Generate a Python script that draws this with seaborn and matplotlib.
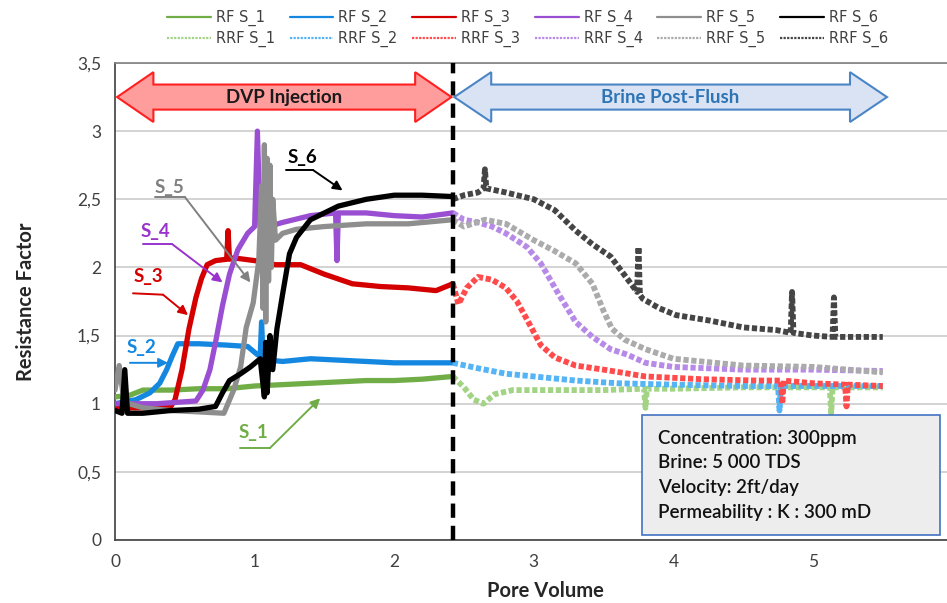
import numpy as np
import pandas as pd
import matplotlib
matplotlib.use("Agg")
import matplotlib.pyplot as plt
from matplotlib.patches import Polygon, Rectangle
from matplotlib.lines import Line2D
from matplotlib.ticker import MultipleLocator, FuncFormatter
import seaborn as sns

# ---------------- data ----------------
series_names = ["S_1", "S_2", "S_3", "S_4", "S_5", "S_6"]

RF_S1_x = [0.0, 0.1, 0.2, 0.4, 0.6, 0.8, 1.0, 1.2, 1.4, 1.6, 1.8, 2.0, 2.2, 2.42]
RF_S1_y = [1.05, 1.06, 1.10, 1.10, 1.11, 1.11, 1.13, 1.14, 1.15, 1.16, 1.17, 1.17, 1.18, 1.20]
RRF_S1_x = [2.42, 2.5, 2.57, 2.64, 2.72, 2.85, 3.0, 3.5, 3.79, 3.80, 3.81, 4.0, 4.5, 5.0, 5.12, 5.13, 5.14, 5.5]
RRF_S1_y = [1.20, 1.12, 1.03, 1.00, 1.07, 1.10, 1.10, 1.10, 1.11, 0.97, 1.11, 1.11, 1.12, 1.12, 1.12, 0.93, 1.12, 1.12]

RF_S2_x = [0.0, 0.15, 0.25, 0.32, 0.37, 0.41, 0.45, 0.6, 0.8, 0.95, 1.02, 1.04, 1.05, 1.06, 1.1, 1.2, 1.4, 1.6, 1.8, 2.0, 2.2, 2.42]
RF_S2_y = [1.00, 1.03, 1.08, 1.15, 1.25, 1.35, 1.44, 1.44, 1.43, 1.42, 1.36, 1.35, 1.60, 1.35, 1.32, 1.31, 1.33, 1.32, 1.31, 1.30, 1.30, 1.30]
RRF_S2_x = [2.42, 2.6, 2.8, 3.0, 3.3, 3.6, 4.0, 4.5, 4.75, 4.76, 4.77, 5.0, 5.5]
RRF_S2_y = [1.30, 1.26, 1.22, 1.20, 1.17, 1.15, 1.14, 1.13, 1.13, 0.95, 1.13, 1.13, 1.13]

RF_S3_x = [0.0, 0.2, 0.4, 0.43, 0.48, 0.53, 0.58, 0.62, 0.66, 0.72, 0.80, 0.81, 0.82, 0.85, 1.0, 1.15, 1.33, 1.5, 1.7, 1.9, 2.1, 2.3, 2.42]
RF_S3_y = [0.97, 0.97, 0.98, 1.03, 1.25, 1.55, 1.78, 1.92, 2.02, 2.05, 2.06, 2.27, 2.06, 2.07, 2.05, 2.02, 2.02, 1.95, 1.88, 1.86, 1.85, 1.83, 1.88]
RRF_S3_x = [2.42, 2.46, 2.52, 2.6, 2.7, 2.8, 2.88, 2.95, 3.05, 3.15, 3.3, 3.5, 3.8, 4.2, 4.6, 4.77, 4.78, 4.79, 5.0, 5.23, 5.24, 5.25, 5.5]
RRF_S3_y = [1.88, 1.73, 1.85, 1.93, 1.91, 1.85, 1.75, 1.62, 1.43, 1.34, 1.28, 1.25, 1.20, 1.18, 1.17, 1.17, 1.00, 1.17, 1.15, 1.14, 0.98, 1.14, 1.13]

RF_S4_x = [0.0, 0.3, 0.58, 0.63, 0.68, 0.72, 0.77, 0.82, 0.88, 0.95, 1.0, 1.02, 1.04, 1.1, 1.2, 1.4, 1.58, 1.59, 1.60, 1.8, 2.0, 2.2, 2.42]
RF_S4_y = [1.00, 1.00, 1.02, 1.10, 1.25, 1.45, 1.72, 1.95, 2.13, 2.25, 2.30, 3.00, 2.30, 2.30, 2.33, 2.38, 2.40, 2.05, 2.40, 2.40, 2.38, 2.37, 2.40]
RRF_S4_x = [2.42, 2.5, 2.6, 2.7, 2.8, 2.95, 3.05, 3.18, 3.3, 3.42, 3.55, 3.67, 3.8, 4.0, 4.5, 5.0, 5.5]
RRF_S4_y = [2.40, 2.35, 2.33, 2.30, 2.25, 2.15, 2.03, 1.80, 1.60, 1.49, 1.40, 1.36, 1.30, 1.27, 1.25, 1.25, 1.24]

RF_S5_x = [0.0, 0.03, 0.06, 0.1, 0.2, 0.4, 0.6, 0.78, 0.85, 0.9, 0.94, 0.99, 1.03, 1.05, 1.06, 1.07, 1.08, 1.09, 1.10, 1.11, 1.12, 1.13, 1.15, 1.2, 1.3, 1.5, 1.8, 2.1, 2.42]
RF_S5_y = [1.10, 1.28, 1.05, 1.00, 0.97, 0.95, 0.94, 0.93, 1.10, 1.27, 1.56, 1.74, 2.05, 2.60, 1.70, 2.90, 1.60, 2.80, 1.90, 2.75, 2.00, 2.50, 2.20, 2.25, 2.28, 2.30, 2.32, 2.32, 2.35]
RRF_S5_x = [2.42, 2.5, 2.65, 2.8, 3.0, 3.15, 3.3, 3.42, 3.5, 3.56, 3.65, 3.8, 4.0, 4.5, 5.0, 5.5]
RRF_S5_y = [2.35, 2.30, 2.35, 2.32, 2.20, 2.12, 2.03, 1.88, 1.68, 1.55, 1.47, 1.40, 1.33, 1.28, 1.27, 1.23]

RF_S6_x = [0.0, 0.05, 0.07, 0.09, 0.2, 0.4, 0.6, 0.72, 0.77, 0.82, 0.9, 0.97, 1.04, 1.07, 1.08, 1.09, 1.11, 1.13, 1.16, 1.2, 1.25, 1.3, 1.4, 1.6, 1.8, 2.0, 2.2, 2.42]
RF_S6_y = [0.95, 0.93, 1.25, 0.93, 0.93, 0.95, 0.96, 0.98, 1.08, 1.17, 1.22, 1.27, 1.33, 1.05, 1.45, 1.08, 1.50, 1.25, 1.55, 1.80, 2.10, 2.22, 2.35, 2.45, 2.50, 2.53, 2.53, 2.52]
RRF_S6_x = [2.42, 2.5, 2.6, 2.64, 2.65, 2.66, 2.8, 3.0, 3.15, 3.3, 3.42, 3.55, 3.66, 3.74, 3.75, 3.76, 3.78, 3.9, 4.02, 4.26, 4.5, 4.74, 4.84, 4.85, 4.86, 5.0, 5.14, 5.15, 5.16, 5.3, 5.5]
RRF_S6_y = [2.50, 2.53, 2.55, 2.58, 2.72, 2.58, 2.55, 2.50, 2.42, 2.27, 2.17, 2.08, 1.93, 1.82, 2.15, 1.80, 1.77, 1.70, 1.65, 1.61, 1.56, 1.54, 1.52, 1.82, 1.52, 1.50, 1.49, 1.78, 1.49, 1.49, 1.49]

switch_pv = 2.42
x_ticks = [0, 1, 2, 3, 4, 5]
y_ticks = [0, 0.5, 1, 1.5, 2, 2.5, 3, 3.5]

RF_colors = ["#70AD47", "#1487E0", "#D40000", "#9A4FD2", "#8E8E8E", "#000000"]
RRF_colors = ["#A3D486", "#55B4F5", "#FF4B4B", "#B88AE8", "#ABABAB", "#454545"]

RF_data = [(RF_S1_x, RF_S1_y), (RF_S2_x, RF_S2_y), (RF_S3_x, RF_S3_y),
           (RF_S4_x, RF_S4_y), (RF_S5_x, RF_S5_y), (RF_S6_x, RF_S6_y)]
RRF_data = [(RRF_S1_x, RRF_S1_y), (RRF_S2_x, RRF_S2_y), (RRF_S3_x, RRF_S3_y),
            (RRF_S4_x, RRF_S4_y), (RRF_S5_x, RRF_S5_y), (RRF_S6_x, RRF_S6_y)]

# ---------------- figure ----------------
sns.set_theme(style="white")
plt.rcParams["font.family"] = ["Lato", "DejaVu Sans"]

fig = plt.figure(figsize=(9.47, 6.03), dpi=100)
ax = fig.add_axes([115 / 947, 63 / 603, 837.6 / 947, 477 / 603])

for i, name in enumerate(series_names):
    x, y = RF_data[i]
    df = pd.DataFrame({"PV": x, "RF": y})
    sns.lineplot(data=df, x="PV", y="RF", ax=ax, color=RF_colors[i], lw=3.8,
                 sort=False, estimator=None, zorder=3 + i)
for i, name in enumerate(series_names):
    x, y = RRF_data[i]
    df = pd.DataFrame({"PV": x, "RF": y})
    sns.lineplot(data=df, x="PV", y="RF", ax=ax, color=RRF_colors[i], lw=4.2,
                 linestyle=(0, (0.9, 0.45)), sort=False, estimator=None, zorder=10 + i)

ax.set_xlim(0, 6)
ax.set_ylim(0, 3.5)
ax.set_xticks(x_ticks)
ax.set_yticks(y_ticks)
ax.xaxis.set_minor_locator(MultipleLocator(0.2))
ax.yaxis.set_minor_locator(MultipleLocator(0.1))
fmt = FuncFormatter(lambda v, p: ("%g" % v).replace(".", ","))
ax.yaxis.set_major_formatter(fmt)
ax.xaxis.set_major_formatter(fmt)
ax.tick_params(axis="both", which="both", direction="in", length=4, width=1,
               color="#595959", labelsize=12.5, labelcolor="#404040")
ax.tick_params(axis="x", which="major", pad=10)
ax.tick_params(axis="y", which="major", pad=10)
ax.grid(axis="y", which="major", color="#D0D0D0", lw=1.3, zorder=0)
ax.set_axisbelow(True)
for side in ["left", "bottom"]:
    ax.spines[side].set_color("#404040")
    ax.spines[side].set_linewidth(1.2)
ax.spines["top"].set_color("#7F7F7F")
ax.spines["top"].set_linewidth(1.2)
ax.spines["right"].set_visible(False)

ax.set_xlabel("Pore Volume", fontsize=14.5, fontweight="bold", color="#262626")
ax.set_ylabel("Resistance Factor", fontsize=14.5, fontweight="bold", color="#262626")
ax.xaxis.set_label_coords((545 - 115) / 837.6, -0.087)
ax.yaxis.set_label_coords(-(115 - 36) / 837.6, 0.5)

# switch line
ax.axvline(switch_pv, color="black", lw=3.2, linestyle=(0, (3.2, 1.8)), zorder=20)

# double-headed arrows
def double_arrow(x0, x1, yc, body, head, hl, fc, ec):
    pts = [(x0, yc), (x0 + hl, yc + head), (x0 + hl, yc + body), (x1 - hl, yc + body),
           (x1 - hl, yc + head), (x1, yc), (x1 - hl, yc - head), (x1 - hl, yc - body),
           (x0 + hl, yc - body), (x0 + hl, yc - head)]
    ax.add_patch(Polygon(pts, closed=True, facecolor=fc, edgecolor=ec, lw=1.5, zorder=15))

double_arrow(0.015, 2.41, 3.25, 0.092, 0.183, 0.26, "#FF9C9C", "#FF2020")
double_arrow(2.43, 5.53, 3.25, 0.092, 0.183, 0.265, "#DAE3F3", "#4A86C5")
ax.text(1.21, 3.25, "DVP Injection", ha="center", va="center", fontsize=13.5,
        fontweight="bold", color="#1A1A1A", zorder=16)
ax.text(3.98, 3.25, "Brine Post-Flush", ha="center", va="center", fontsize=13.5,
        fontweight="bold", color="#2E75B6", zorder=16)

# series labels with leader lines
labels = [
    ("S_6", "#000000", (1.34, 2.81), [(1.225, 2.715), (1.418, 2.715)], (1.63, 2.565)),
    ("S_5", "#808080", (0.39, 2.59), [(0.287, 2.516), (0.501, 2.516)], (0.97, 1.89)),
    ("S_4", "#9933CC", (0.29, 2.26), [(0.20, 2.172), (0.408, 2.172)], (0.77, 1.89)),
    ("S_3", "#D40000", (0.24, 1.93), [(0.129, 1.81), (0.344, 1.80)], (0.523, 1.65)),
    ("S_2", "#1487E0", (0.19, 1.41), [(0.107, 1.30), (0.107, 1.30)], (0.38, 1.30)),
    ("S_1", "#70AD47", (0.99, 0.79), [(0.895, 0.675), (1.11, 0.675)], (1.47, 1.04)),
]
for txt, col, tpos, seg, tip in labels:
    ax.text(tpos[0], tpos[1], txt, ha="center", va="center", fontsize=13.5,
            fontweight="bold", color=col, zorder=25)
    ax.plot([seg[0][0], seg[1][0]], [seg[0][1], seg[1][1]], color=col, lw=1.4, zorder=25)
    ax.annotate("", xy=tip, xytext=seg[1],
                arrowprops=dict(arrowstyle="-|>", color=col, lw=1.4,
                                mutation_scale=14, shrinkA=0, shrinkB=0), zorder=25)

# info box
ax.add_patch(Rectangle((3.775, 0.037), 2.135, 0.88, facecolor="#EDEDED",
                       edgecolor="#4472C4", lw=1.2, zorder=30))
info_lines = ["Concentration: 300ppm", "Brine: 5 000 TDS", "Velocity: 2ft/day",
              "Permeability : K : 300 mD"]
for j, line in enumerate(info_lines):
    ax.text(3.89, 0.748 - j * 0.183, line, ha="left", va="center", fontsize=13.5,
            fontweight="semibold", color="#111111", zorder=31)

# legend
handles = []
for i, name in enumerate(series_names):
    handles.append(Line2D([], [], color=RF_colors[i], lw=1.6, label="RF " + name))
    handles.append(Line2D([], [], color=RRF_colors[i], lw=1.6, linestyle=(0, (1, 0.6)),
                          label="RRF " + name))
leg = fig.legend(handles=handles, ncol=6, loc="upper center", bbox_to_anchor=(0.557, 1.005),
                 frameon=False, handlelength=3.0, columnspacing=1.0,
                 handletextpad=0.35, labelspacing=0.3,
                 prop={"family": ["Liberation Sans Narrow", "DejaVu Sans"], "size": 10.5})
for t in leg.get_texts():
    t.set_color("#404040")

fig.savefig("out.png", dpi=100)
